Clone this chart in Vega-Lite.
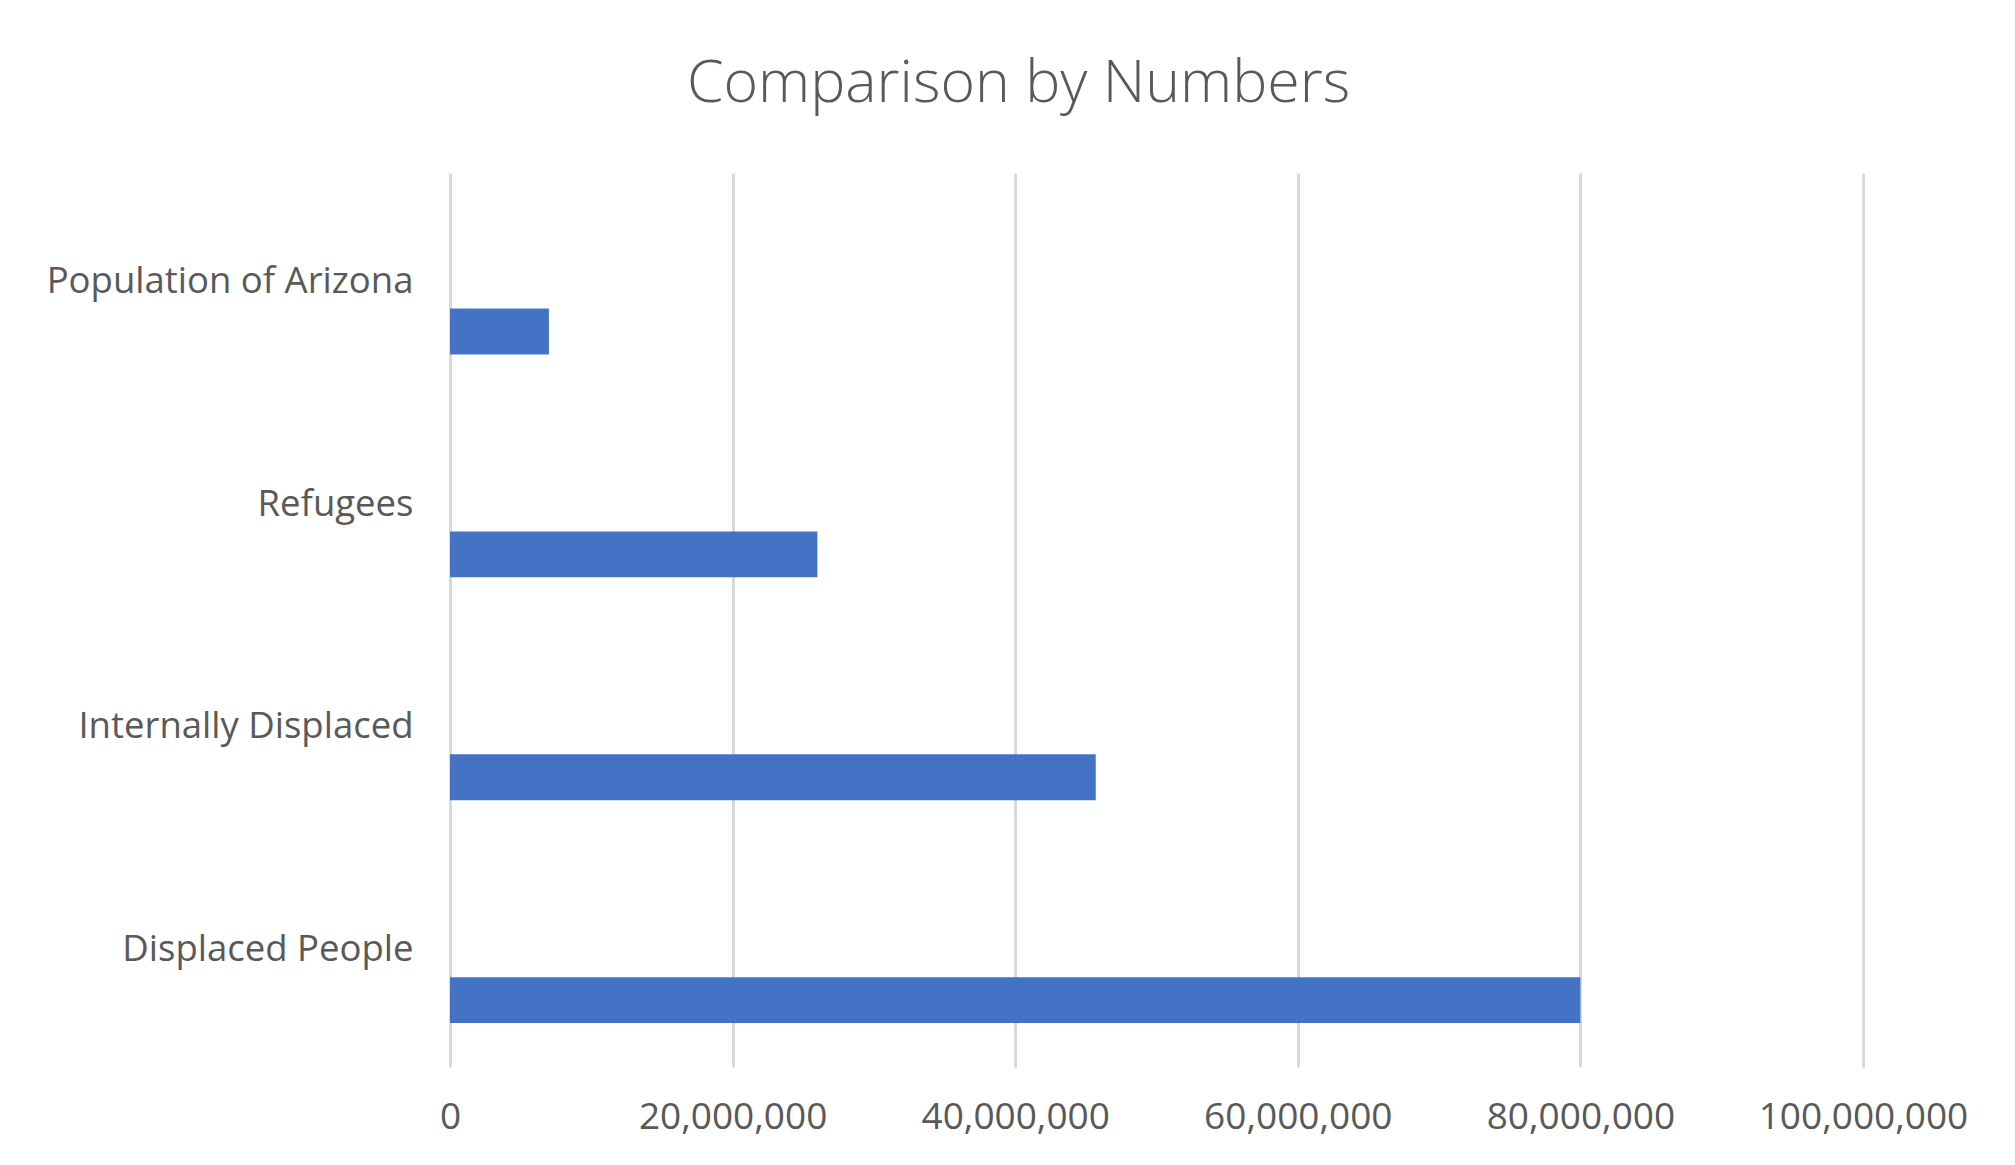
{
  "$schema": "https://vega.github.io/schema/vega-lite/v6.json",
  "autosize": {"type": "none"},
  "padding": {"left": 450, "top": 173, "right": 152, "bottom": 98},
  "width": 1413,
  "height": 894,
  "background": "white",
  "title": {
    "text": "Comparison by Numbers",
    "font": "Open Sans",
    "fontSize": 59,
    "fontWeight": 300,
    "color": "#595959",
    "anchor": "middle",
    "frame": "group",
    "baseline": "alphabetic",
    "offset": 71,
    "dx": -138,
    "dy": 59
  },
  "data": {
    "values": [
      {"category": "Population of Arizona", "series": "Series 1", "value": 7000000},
      {"category": "Refugees", "series": "Series 1", "value": 26000000},
      {"category": "Internally Displaced", "series": "Series 1", "value": 45700000},
      {"category": "Displaced People", "series": "Series 1", "value": 80000000}
    ]
  },
  "mark": {"type": "bar", "color": "#4472C4"},
  "encoding": {
    "y": {
      "field": "category",
      "type": "nominal",
      "sort": ["Population of Arizona", "Refugees", "Internally Displaced", "Displaced People"],
      "scale": {"paddingInner": 0.383, "paddingOuter": 0.197},
      "axis": {
        "title": null,
        "domain": false,
        "ticks": false,
        "grid": false,
        "labelFont": "Open Sans",
        "labelFontSize": 36.5,
        "labelColor": "#595959",
        "labelPadding": 37,
        "labelLimit": 600,
        "labelOffset": -4
      }
    },
    "yOffset": {
      "field": "series",
      "type": "nominal",
      "scale": {"domain": ["Series 3", "Series 2", "Series 1"], "paddingInner": 0, "paddingOuter": 0}
    },
    "x": {
      "field": "value",
      "type": "quantitative",
      "scale": {"domain": [0, 100000000], "nice": false},
      "axis": {
        "title": null,
        "values": [0, 20000000, 40000000, 60000000, 80000000, 100000000],
        "format": ",d",
        "domain": false,
        "ticks": false,
        "grid": true,
        "gridColor": "#d9d9d9",
        "gridWidth": 3,
        "labelFont": "Open Sans",
        "labelFontSize": 37,
        "labelColor": "#595959",
        "labelPadding": 32,
        "labelFlush": false,
        "labelOverlap": false,
        "labelLimit": 500
      }
    }
  },
  "config": {"view": {"stroke": null}}
}
